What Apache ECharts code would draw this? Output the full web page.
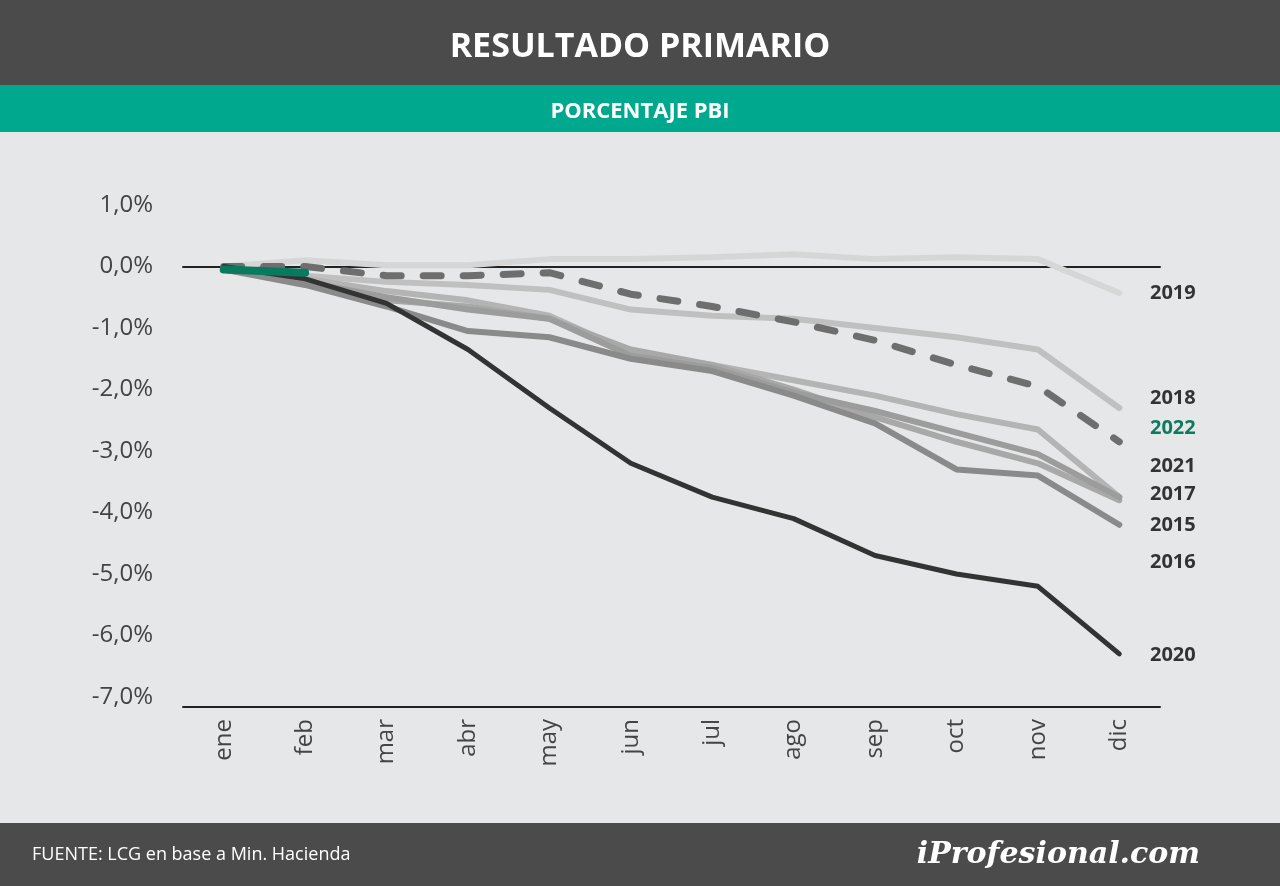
<!DOCTYPE html><html><head><meta charset="utf-8"><script src="https://cdn.jsdelivr.net/npm/echarts@6/dist/echarts.min.js"></script>
<style>body{margin:0;background:#e6e7e8}#c{width:1280px;height:886px}</style></head><body><div id="c"></div>
<script>
const months=['ene','feb','mar','abr','may','jun','jul','ago','sep','oct','nov','dic'];
const yTicks=[1,0,-1,-2,-3,-4,-5,-6,-7];
const s2019=[0,0.1,0.02,0.02,0.12,0.12,0.15,0.2,0.12,0.15,0.12,-0.43];
const s2018=[-0.05,-0.15,-0.25,-0.3,-0.38,-0.7,-0.8,-0.85,-1.0,-1.15,-1.35,-2.3];
const s2022p=[0,0,-0.15,-0.15,-0.1,-0.45,-0.65,-0.9,-1.2,-1.6,-1.95,-2.85];
const s2022=[-0.05,-0.1];
const s2021=[-0.05,-0.2,-0.4,-0.55,-0.8,-1.4,-1.6,-1.85,-2.1,-2.4,-2.65,-3.75];
const s2017=[-0.05,-0.25,-0.5,-0.7,-0.85,-1.45,-1.65,-2.05,-2.35,-2.7,-3.05,-3.75];
const s2016=[-0.05,-0.25,-0.55,-0.65,-0.85,-1.35,-1.6,-2.0,-2.45,-2.85,-3.2,-3.8];
const s2015=[-0.05,-0.3,-0.65,-1.05,-1.15,-1.5,-1.7,-2.1,-2.55,-3.3,-3.4,-4.2];
const s2020=[0,-0.2,-0.6,-1.35,-2.3,-3.2,-3.75,-4.1,-4.7,-5.0,-5.2,-6.3];
const labels=[['2019',293],['2018',398],['2022',428],['2021',466],['2017',494],['2015',525],['2016',562],['2020',655]];
const ln=(d,c,w,extra)=>Object.assign({type:'line',data:d,symbol:'none',lineStyle:{color:c,width:w,cap:'round',join:'round'},xAxisIndex:0,z:2},extra||{});
const ch=echarts.init(document.getElementById('c'));
const g=[
 {type:'rect',shape:{x:0,y:0,width:1280,height:85},style:{fill:'#4b4b4b'}},
 {type:'rect',shape:{x:0,y:85,width:1280,height:47},style:{fill:'#00a88e'}},
 {type:'rect',shape:{x:0,y:823,width:1280,height:63},style:{fill:'#4b4b4b'}},
 {type:'text',x:640,y:47,style:{text:'RESULTADO PRIMARIO',fill:'#fff',font:'bold 34px "Open Sans"',align:'center',verticalAlign:'middle'}},
 {type:'text',x:640,y:112,style:{text:'PORCENTAJE PBI',fill:'#fff',font:'bold 22px "Open Sans"',align:'center',verticalAlign:'middle'}},
 {type:'text',x:32,y:855,style:{text:'FUENTE: LCG en base a Min. Hacienda',fill:'#fff',font:'18px "Open Sans"',verticalAlign:'middle'}},
 {type:'text',x:1200,y:855,style:{text:'iProfesional.com',fill:'#fff',font:'italic bold 30px "DejaVu Serif"',align:'right',verticalAlign:'middle'}}
];
labels.forEach(([t,y])=>g.push({type:'text',x:1150,y:y,style:{text:t,fill:t==='2022'?'#0e7a5f':'#333',font:'bold 20px "Open Sans"',verticalAlign:'middle'}}));
ch.setOption({backgroundColor:'#e6e7e8',animation:false,graphic:g,
 grid:{left:183,right:120,top:205,bottom:189},
 xAxis:[{type:'category',data:months,axisLine:{onZero:true,lineStyle:{color:'#222',width:2}},axisTick:{length:8,inside:false,lineStyle:{color:'#222',width:2}},axisLabel:{show:false}},
  {type:'category',data:months,position:'bottom',offset:10,axisLine:{onZero:false,lineStyle:{color:'#222',width:2}},axisTick:{length:10,lineStyle:{color:'#222',width:2}},axisLabel:{rotate:90,color:'#444',fontSize:24,fontFamily:'Open Sans',margin:12}}],
 yAxis:{type:'value',min:-7,max:1,interval:1,axisLine:{show:false},axisTick:{show:false},splitLine:{show:false},axisLabel:{color:'#444',fontSize:24,fontFamily:'Open Sans',margin:30,formatter:v=>v.toFixed(1).replace('.',',')+'%'}},
 series:[ln(s2019,'#d6d6d6',6),ln(s2018,'#c0c0c0',6),ln(s2021,'#b4b4b4',6),ln(s2016,'#a8a8a8',6),ln(s2017,'#9c9c9c',6),ln(s2015,'#8a8a8a',6),
  ln(s2022p,'#6e6e6e',7,{lineStyle:{color:'#6e6e6e',width:7,type:[18,22],cap:'round'},z:3}),
  ln(s2020,'#333333',5,{z:4}),ln(s2022,'#087a5e',8,{z:5})]
});
</script></body></html>
